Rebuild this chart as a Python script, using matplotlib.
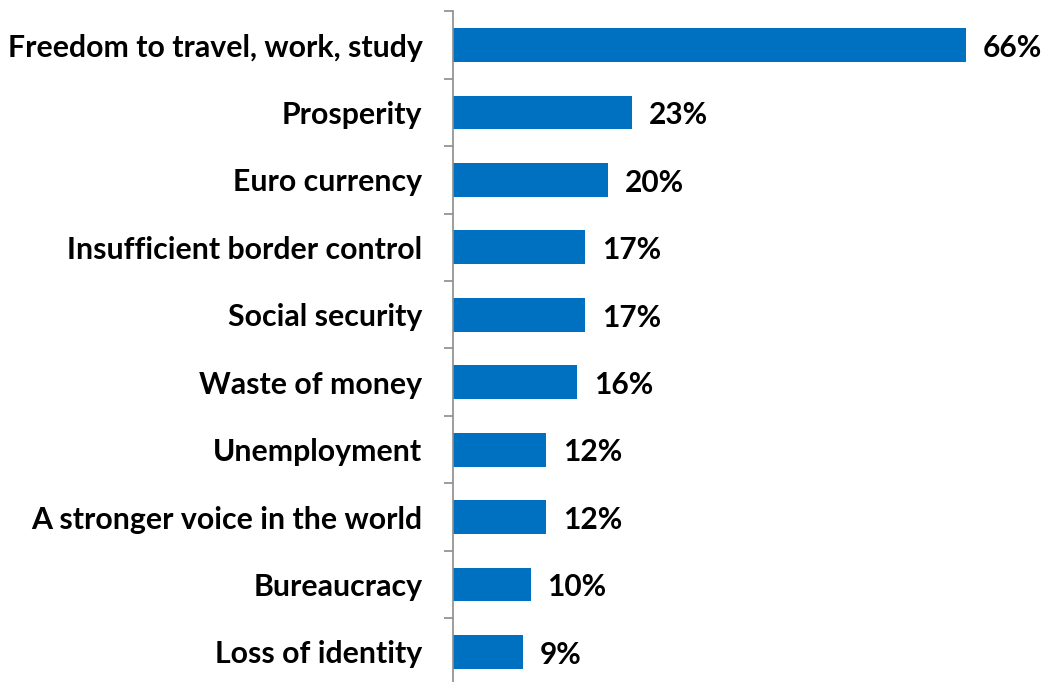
import matplotlib
matplotlib.use("Agg")
import matplotlib.pyplot as plt
import numpy as np

categories = ["Freedom to travel, work, study", "Prosperity", "Euro currency",
              "Insufficient border control", "Social security", "Waste of money",
              "Unemployment", "A stronger voice in the world", "Bureaucracy",
              "Loss of identity"]
values = [66, 23, 20, 17, 17, 16, 12, 12, 10, 9]

W, H = 1046, 682
fig = plt.figure(figsize=(W / 100, H / 100), dpi=100)

# axes placed in pixel terms: left edge at the axis line, x range 0..70
left, right = 453, 453 + 70 * 7.77
top, bottom = 11.3, 685.7
ax = fig.add_axes([left / W, (H - bottom) / H, (right - left) / W, (bottom - top) / H])

y = np.arange(len(categories))
ax.barh(y, values, height=0.5, color="#0070C0", zorder=2)
ax.set_xlim(0, 70)
ax.set_ylim(len(categories) - 0.5, -0.5)

for yi, v in zip(y, values):
    ax.annotate(f"{v}%", xy=(v, yi), xytext=(12, -2), textcoords="offset points",
                ha="left", va="center", fontsize=21.5, fontweight="bold",
                family="Lato", color="black", annotation_clip=False)

for s in ["top", "right", "bottom"]:
    ax.spines[s].set_visible(False)
ax.spines["left"].set_color("#8c8c8c")
ax.spines["left"].set_linewidth(1.2)

ax.set_xticks([])
ax.set_yticks(y)
ax.set_yticklabels(categories, fontsize=21.8, fontweight="bold", family="Lato")
ax.tick_params(axis="y", which="major", length=0, pad=22)
ax.set_yticks(np.arange(-0.5, len(categories), 1), minor=True)
ax.tick_params(axis="y", which="minor", length=6.5, width=1.2, color="#8c8c8c")

fig.savefig("out.png", dpi=100)
